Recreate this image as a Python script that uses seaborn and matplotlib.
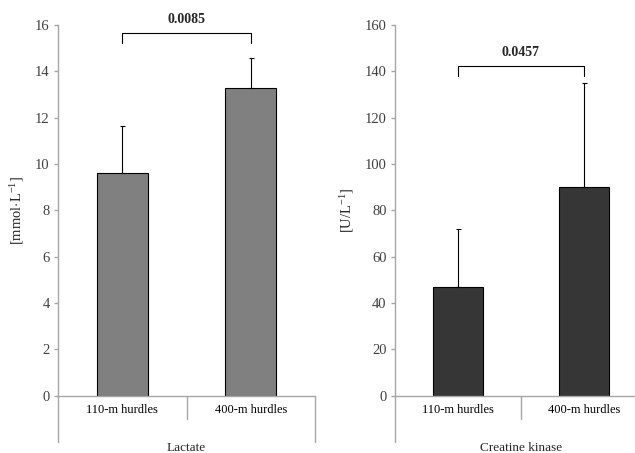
import matplotlib
matplotlib.use("Agg")
import pandas as pd
from matplotlib import pyplot as plt
import seaborn as sns

# values
categories = ["110-m hurdles", "400-m hurdles"]
lactate_mean = [9.62, 13.28]
lactate_sd = [2.02, 1.31]
ck_mean = [47.0, 89.9]
ck_sd = [25.0, 45.2]
p_values = ["0.0085", "0.0457"]
bracket_levels = [15.64, 142.3]

sns.set_style("white")
plt.rcParams["font.family"] = ["Liberation Serif", "DejaVu Serif"]
plt.rcParams["mathtext.fontset"] = "custom"
plt.rcParams["mathtext.rm"] = "Liberation Serif"
plt.rcParams["mathtext.it"] = "Liberation Serif:italic"

SPINE = "#a6a6a6"
TEXT = "#404040"


def draw_panel(ax, means, sds, color, ymax, step, ylabel, group, pval, level, ylabel_x):
    df = pd.DataFrame({"group": categories, "value": means})
    sns.barplot(data=df, x="group", y="value", color=color, saturation=1,
                width=0.4, edgecolor="black", linewidth=0.8, ax=ax)
    # upper error bars only
    ax.errorbar(x=range(len(means)), y=means, yerr=[[0] * len(sds), sds],
                fmt="none", ecolor="black", elinewidth=0.8, capsize=1.8,
                capthick=0.8)

    ax.set_xlim(-0.5, 1.5)
    ax.set_ylim(0, ymax)
    ax.set_yticks(range(0, ymax + 1, step))
    ax.set_facecolor("white")

    for side in ["top", "right"]:
        ax.spines[side].set_visible(False)
    for side in ["left", "bottom"]:
        ax.spines[side].set_color(SPINE)
        ax.spines[side].set_linewidth(1.0)

    ax.tick_params(axis="y", length=3, width=1, color=SPINE, labelsize=10.5,
                   labelcolor=TEXT, pad=3, left=True, direction="out")
    ax.tick_params(axis="x", length=0, labelsize=9, labelcolor="black", pad=6)

    # category dividers below the axis
    trans = ax.get_xaxis_transform()
    for xpos, depth in [(-0.5, -0.125), (0.5, -0.062), (1.5, -0.125)]:
        ax.plot([xpos, xpos], [0, depth], color=SPINE, lw=1.0,
                transform=trans, clip_on=False)

    ax.set_xlabel(group, fontsize=9.5)
    ax.xaxis.set_label_coords(0.5, -0.124)
    ax.xaxis.label.set_va("top")
    ax.set_ylabel(ylabel, fontsize=10.5)
    ax.yaxis.set_label_coords(ylabel_x, 0.5)

    # significance bracket
    drop = ymax * 0.027
    ax.plot([0, 0, 1, 1], [level - drop, level, level, level - drop],
            color="black", lw=0.8)
    ax.annotate(pval, xy=(0.5, level), xytext=(0, 5),
                textcoords="offset points", ha="center", va="bottom",
                fontsize=10, fontweight="bold")


fig = plt.figure(figsize=(6.35, 4.53), dpi=100)
ax1 = fig.add_axes([58 / 635, 1 - 395.7 / 453, 257 / 635, 370.7 / 453])
ax2 = fig.add_axes([395 / 635, 1 - 395.7 / 453, 252 / 635, 370.7 / 453])

draw_panel(ax1, lactate_mean, lactate_sd, "#808080", 16, 2,
           r"[mmol$\cdot$L$^{-1}$]", "Lactate", p_values[0], bracket_levels[0], -0.125)
draw_panel(ax2, ck_mean, ck_sd, "#363636", 160, 20,
           r"[U/L$^{-1}$]", "Creatine kinase", p_values[1], bracket_levels[1], -0.155)

fig.savefig("out.png", dpi=100)
